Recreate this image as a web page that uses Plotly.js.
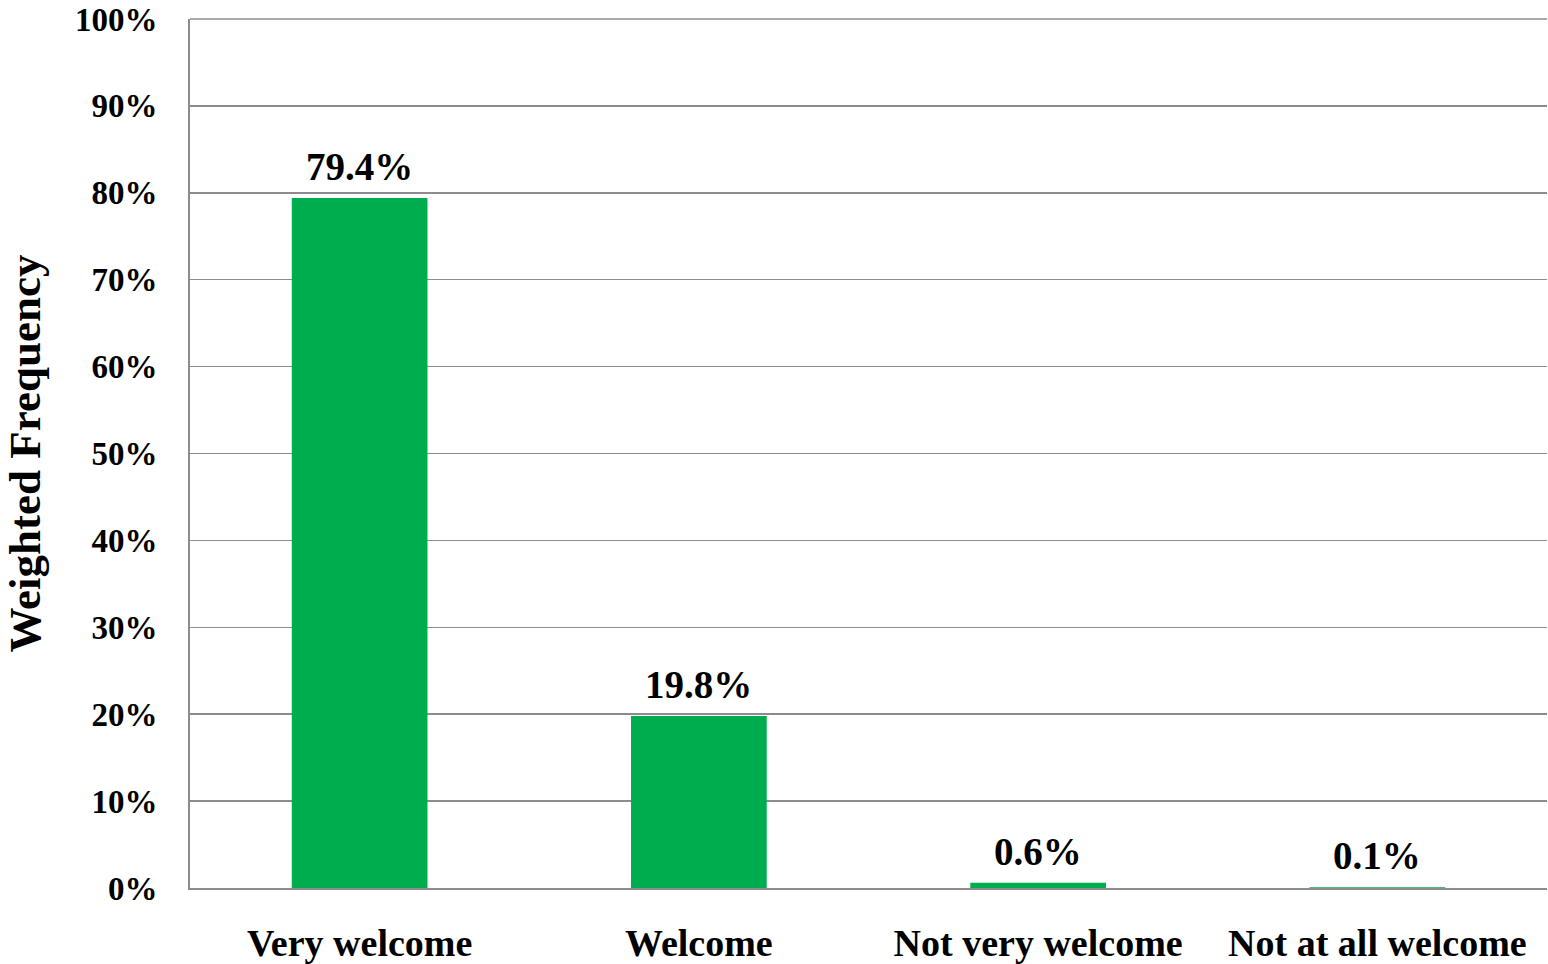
<!DOCTYPE html>
<html><head><meta charset="utf-8">
<script src="https://cdn.plot.ly/plotly-3.0.1.min.js"></script>
<style>html,body{margin:0;padding:0;background:#fff}#c{width:1548px;height:964px}</style>
</head><body><div id="c"></div>
<script>
const categories = ["Very welcome", "Welcome", "Not very welcome", "Not at all welcome"];
const values = [79.4, 19.8, 0.6, 0.1];
const labels = ["79.4%", "19.8%", "0.6%", "0.1%"];
const yTickVals = [0,10,20,30,40,50,60,70,80,90,100];
const yTickText = yTickVals.map(v => v + "%");
const FONT = "Liberation Serif";

const annotations = categories.map((c, i) => ({
  x: c, y: values[i], xref: "x", yref: "y",
  text: labels[i], showarrow: false,
  xanchor: "center", yanchor: "bottom", yshift: 8,
  font: {family: FONT, size: 39, color: "#000", weight: "bold"}
}));

Plotly.newPlot("c", [{
  type: "bar",
  x: categories,
  y: values,
  marker: {color: "#00ad4e"},
  width: 0.4,
  hoverinfo: "none"
}], {
  width: 1548, height: 964,
  margin: {l: 190, r: 1, t: 19, b: 76},
  paper_bgcolor: "#fff", plot_bgcolor: "#fff",
  showlegend: false,
  font: {family: FONT, color: "#000"},
  annotations: annotations,
  xaxis: {
    type: "category",
    showgrid: false, zeroline: false,
    showline: true, linecolor: "#8c8c8c", linewidth: 2,
    ticks: "", ticklabelstandoff: 20,
    tickfont: {family: FONT, size: 38, color: "#000", weight: "bold"}
  },
  yaxis: {
    range: [0, 100], autorange: false,
    tickvals: yTickVals, ticktext: yTickText,
    showgrid: true, gridcolor: "#8c8c8c", gridwidth: 1.5,
    zeroline: false, showline: true, linecolor: "#8c8c8c", linewidth: 2,
    ticks: "", ticklabelstandoff: 24,
    tickfont: {family: FONT, size: 33, color: "#000", weight: "bold"},
    title: {text: "Weighted Frequency", font: {family: FONT, size: 45, color: "#000", weight: "bold"}, standoff: 20}
  },
  shapes: [{type: "line", xref: "paper", yref: "paper", x0: 0, x1: 1, y0: 1, y1: 1, line: {color: "#8c8c8c", width: 1.5}}]
}, {staticPlot: true});
</script></body></html>
